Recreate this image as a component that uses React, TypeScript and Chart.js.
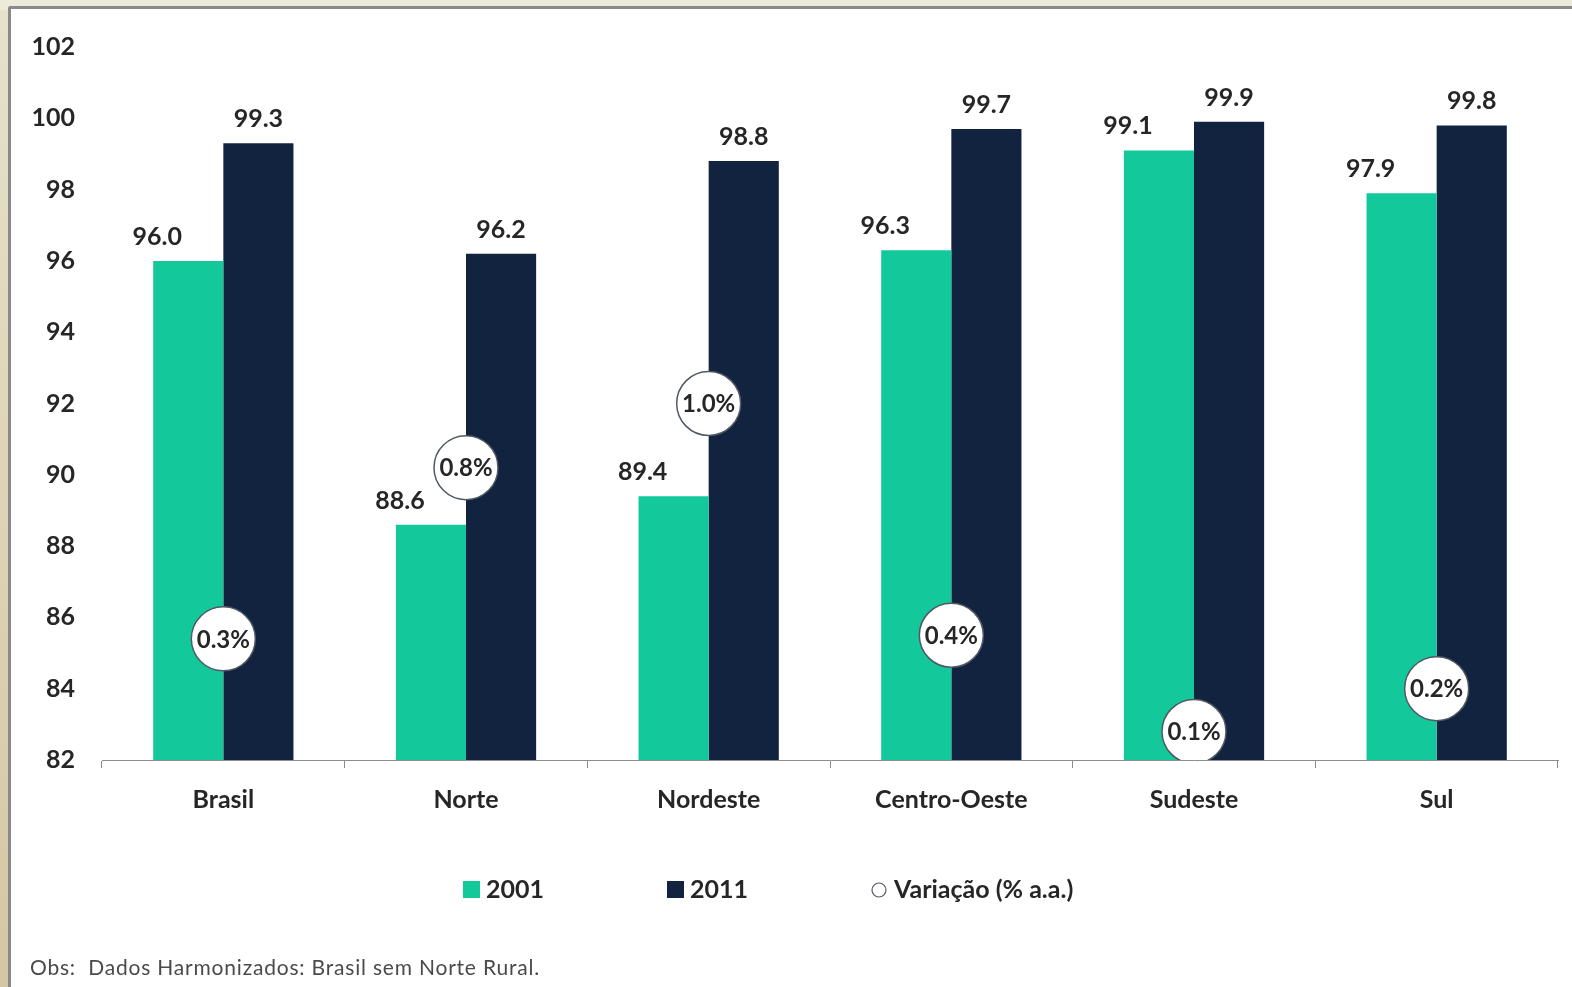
import React, { useEffect, useRef } from 'react';
import { Chart, registerables } from 'chart.js';

Chart.register(...registerables);

const categories = ['Brasil', 'Norte', 'Nordeste', 'Centro-Oeste', 'Sudeste', 'Sul'];
const values2001 = [96.0, 88.6, 89.4, 96.3, 99.1, 97.9];
const values2011 = [99.3, 96.2, 98.8, 99.7, 99.9, 99.8];
const variacao = [0.3, 0.8, 1.0, 0.4, 0.1, 0.2];
const variacaoY = [85.4, 90.2, 92.0, 85.5, 82.8, 84.0];
const yMin = 82;
const yMax = 102;
const yStep = 2;
const seriesLabels = ['2001', '2011', 'Variação (% a.a.)'];
const note = 'Obs:  Dados Harmonizados: Brasil sem Norte Rural.';

const FONT = 'Lato, "Open Sans", sans-serif';
const GREEN = '#13C99B';
const NAVY = '#12233F';
const TEXT = '#262626';
const CIRCLE_BORDER = '#4f5864';

const labelPlugin = {
  id: 'valueLabels',
  afterDatasetsDraw(chart: any) {
    const ctx = chart.ctx;
    ctx.save();
    ctx.fillStyle = TEXT;
    ctx.textAlign = 'center';
    ctx.textBaseline = 'middle';
    chart.data.datasets.forEach((ds: any, di: number) => {
      const meta = chart.getDatasetMeta(di);
      if (ds.type === 'line') {
        ctx.font = `bold 24px ${FONT}`;
        meta.data.forEach((pt: any, i: number) => {
          ctx.fillText(variacao[i].toFixed(1) + '%', pt.x, pt.y + 1);
        });
      } else {
        ctx.font = `bold 25px ${FONT}`;
        const dx = ds.label === '2001' ? -31 : 0;
        meta.data.forEach((bar: any, i: number) => {
          ctx.fillText(Number(ds.data[i]).toFixed(1), bar.x + dx, bar.y - 24);
        });
      }
    });
    ctx.restore();
  },
};

const legendPlugin = {
  id: 'customLegend',
  afterDraw(chart: any) {
    const ctx = chart.ctx;
    const area = chart.chartArea;
    const cy = area.bottom + 129;
    let x = area.left + 361;
    ctx.save();
    ctx.font = `bold 25px ${FONT}`;
    ctx.textBaseline = 'middle';
    ctx.textAlign = 'left';
    const items = [
      { label: seriesLabels[0], kind: 'box', color: GREEN },
      { label: seriesLabels[1], kind: 'box', color: NAVY },
      { label: seriesLabels[2], kind: 'circle', color: '#ffffff' },
    ];
    items.forEach((it) => {
      if (it.kind === 'box') {
        ctx.fillStyle = it.color;
        ctx.fillRect(x, cy - 8, 17, 17);
      } else {
        ctx.beginPath();
        ctx.arc(x + 8, cy + 1, 7, 0, Math.PI * 2);
        ctx.fillStyle = '#fff';
        ctx.fill();
        ctx.lineWidth = 1.2;
        ctx.strokeStyle = CIRCLE_BORDER;
        ctx.stroke();
      }
      x += 17 + 6;
      ctx.fillStyle = TEXT;
      ctx.fillText(it.label, x, cy + 1);
      x += ctx.measureText(it.label).width + 123;
    });
    ctx.font = `21px ${FONT}`;
    (ctx as any).letterSpacing = '0.8px';
    ctx.fillStyle = '#4a4a4a';
    ctx.fillText(note, 30, area.bottom + 208);
    ctx.restore();
  },
};

export default function App() {
  const ref = useRef<HTMLCanvasElement | null>(null);

  useEffect(() => {
    if (!ref.current) return;
    const chart = new Chart(ref.current, {
      type: 'bar',
      data: {
        labels: categories,
        datasets: [
          {
            type: 'line',
            label: seriesLabels[2],
            data: variacaoY,
            showLine: false,
            pointRadius: 32,
            pointHoverRadius: 32,
            pointBackgroundColor: '#ffffff',
            pointBorderColor: CIRCLE_BORDER,
            pointBorderWidth: 1.5,
            order: 0,
          } as any,
          {
            type: 'bar',
            label: seriesLabels[0],
            data: values2001,
            backgroundColor: GREEN,
            categoryPercentage: 0.578,
            barPercentage: 1,
            order: 1,
          },
          {
            type: 'bar',
            label: seriesLabels[1],
            data: values2011,
            backgroundColor: NAVY,
            categoryPercentage: 0.578,
            barPercentage: 1,
            order: 1,
          },
        ],
      },
      options: {
        responsive: false,
        animation: false,
        events: [],
        layout: { autoPadding: false, padding: { left: 0, top: 47, right: 14, bottom: 167 } },
        plugins: {
          legend: { display: false },
          tooltip: { enabled: false },
        },
        scales: {
          x: {
            grid: {
              display: true,
              drawOnChartArea: false,
              drawTicks: true,
              tickLength: 8,
              color: '#8c8c8c',
              offset: true,
            },
            border: { display: true, color: '#8c8c8c', width: 1 },
            ticks: {
              color: TEXT,
              font: { family: FONT, size: 25, weight: 'bold' },
              padding: 17,
            },
            afterFit: (scale: any) => {
              scale.height = 60;
            },
          },
          y: {
            min: yMin,
            max: yMax,
            grid: { display: false, drawTicks: false },
            border: { display: false },
            ticks: {
              stepSize: yStep,
              color: TEXT,
              font: { family: FONT, size: 25, weight: 'bold' },
              padding: 27,
            },
            afterFit: (scale: any) => {
              scale.width = 102;
            },
          },
        },
      },
      plugins: [labelPlugin, legendPlugin],
    });
    return () => chart.destroy();
  }, []);

  return (
    <div
      style={{
        position: 'fixed',
        left: 0,
        top: 0,
        width: 1572,
        height: 987,
        background: '#ecebda',
        overflow: 'hidden',
      }}
    >
      <div
        style={{
          position: 'absolute',
          left: 0,
          top: 10,
          width: 8,
          bottom: 0,
          background: 'linear-gradient(#e6e1cb, #d4c7a3)',
        }}
      />
      <div
        style={{
          position: 'absolute',
          left: 8,
          top: 6,
          right: 0,
          bottom: 0,
          background: '#ffffff',
          borderLeft: '3px solid #8a8a8a',
          borderTop: '3px solid #8a8a8a',
          borderTopLeftRadius: 3,
        }}
      />
      <canvas
        ref={ref}
        width={1572}
        height={987}
        style={{ position: 'absolute', left: 0, top: 0, width: 1572, height: 987 }}
      />
    </div>
  );
}
